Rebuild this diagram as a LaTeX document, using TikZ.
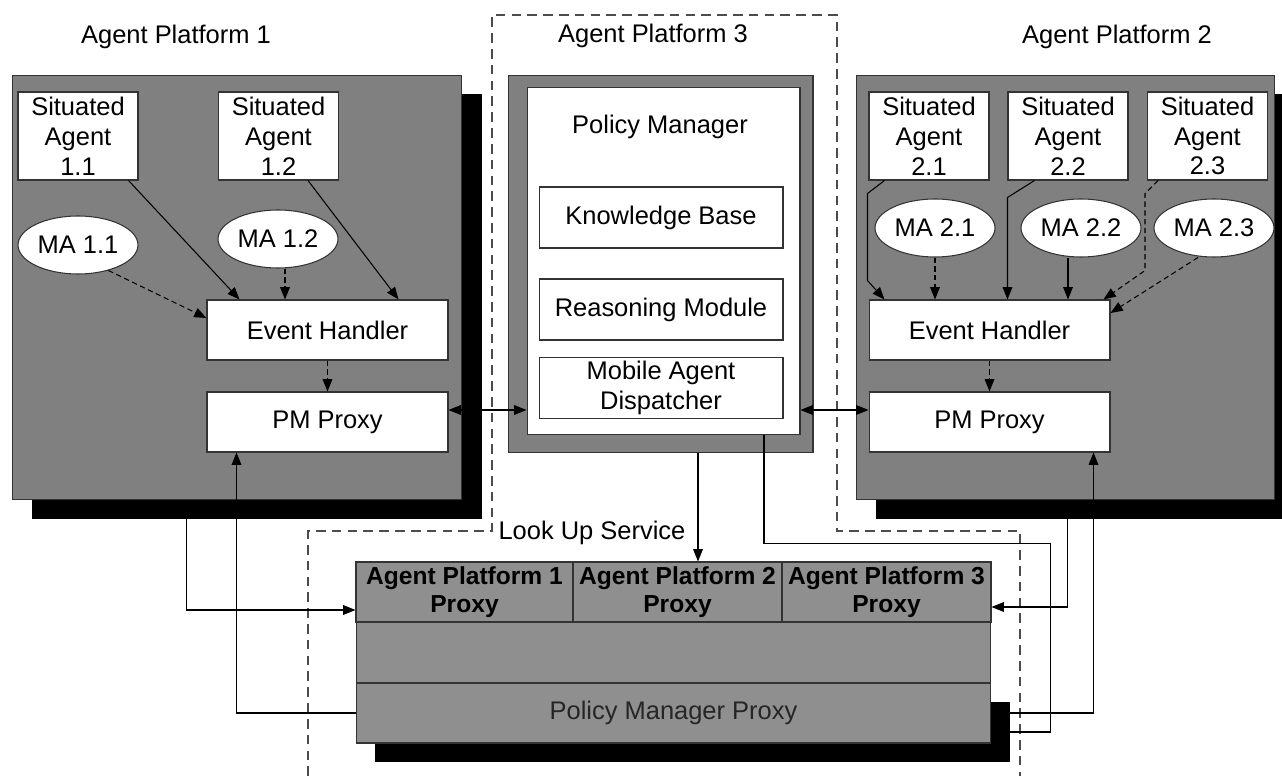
\documentclass[tikz,border=0pt]{standalone}
\usepackage{fontspec}
\setmainfont{Liberation Sans}
\usetikzlibrary{arrows.meta, shapes.geometric}
\definecolor{platgray}{gray}{0.5}
\definecolor{lusgray}{gray}{0.56}
\definecolor{proxytext}{gray}{0.15}

\begin{document}
\begin{tikzpicture}[
		x=0.02cm, y=-0.02cm,
		line width=0.6pt,
		every node/.style={font=\fontsize{14.5}{17}\selectfont},
		platform/.style={draw=black!80, fill=platgray, inner sep=0},
		shadowbox/.style={fill=black, inner sep=0},
		whitebox/.style={draw=black!80, fill=white, align=center, inner sep=0},
		agent/.style={whitebox, minimum width=2.4cm, minimum height=1.76cm},
		mobile/.style={draw=black!80, fill=white, ellipse, minimum width=2.4cm, minimum height=1.16cm, inner sep=0},
		handler/.style={whitebox, minimum width=4.82cm, minimum height=1.2cm},
		module/.style={whitebox, minimum width=4.88cm, minimum height=1.22cm},
		cell/.style={draw=black!80, fill=lusgray, inner sep=0, align=center, minimum height=1.2cm, font=\fontsize{14}{16}\selectfont\bfseries},
		row/.style={draw=black!80, fill=lusgray, inner sep=0, minimum width=12.7cm},
		apzone/.style={draw=black!70, dash pattern=on 5.5pt off 3.5pt},
		conn/.style={draw=black},
		arr/.style={conn, -{Triangle[length=7pt,width=5.5pt]}},
		flow/.style={arr, densely dashed},
		dbl/.style={conn, {Triangle[length=7pt,width=5.5pt]}-{Triangle[length=7pt,width=5.5pt]}}
		]
	\useasboundingbox (0,0) rectangle (1282,776);
	
	% Platform 3 and look up service zone
	\draw[apzone] (308,776) -- (308,531) -- (492,531) -- (492,15) -- (837,15) -- (837,531) -- (1020,531) -- (1020,776);
	\node[anchor=west, inner sep=0] (lustitle) at (498,533) {Look Up Service};
	
	% Titles
	\node (t1) at (176,37) {Agent Platform 1};
	\node (t3) at (653,36) {Agent Platform 3};
	\node (t2) at (1117,37) {Agent Platform 2};
	
	% Agent Platform 1
	\node[shadowbox, minimum width=9cm, minimum height=8.5cm] (plat1sh) at (257,306.5) {};
	\node[platform, minimum width=9cm, minimum height=8.5cm] (plat1) at (237,287.5) {};
	\node[agent] (sa11) at (78,136) {Situated\\Agent\\1.1};
	\node[agent] (sa12) at (278.5,136) {Situated\\Agent\\1.2};
	\node[mobile] (ma11) at (78,245) {MA 1.1};
	\node[mobile] (ma12) at (278,239) {MA 1.2};
	\node[handler] (eh1) at (327.5,330) {Event Handler};
	\node[handler] (pmp1) at (327.5,422) {PM Proxy};
	
	% Agent Platform 3
	\node[platform, minimum width=6.1cm, minimum height=7.56cm] (plat3) at (660.5,264) {};
	\node[whitebox, minimum width=5.46cm, minimum height=6.96cm] (pm) at (663.5,261) {};
	\node (pmlabel) at (660,127) {Policy Manager};
	\node[module] (kb) at (661,217.5) {Knowledge Base};
	\node[module] (rm) at (661,309.5) {Reasoning Module};
	\node[module] (mad) at (661,388) {Mobile Agent\\Dispatcher};
	
	% Agent Platform 2
	\node[shadowbox, minimum width=8.38cm, minimum height=8.5cm] (plat2sh) at (1085.5,306.5) {};
	\node[platform, minimum width=8.38cm, minimum height=8.5cm] (plat2) at (1065.5,287.5) {};
	\node[agent] (sa21) at (929,136) {Situated\\Agent\\2.1};
	\node[agent] (sa22) at (1068,136) {Situated\\Agent\\2.2};
	\node[agent] (sa23) at (1207.5,136) {Situated\\Agent\\2.3};
	\node[mobile] (ma21) at (935,228) {MA 2.1};
	\node[mobile] (ma22) at (1081,228) {MA 2.2};
	\node[mobile] (ma23) at (1214,228) {MA 2.3};
	\node[handler] (eh2) at (989.5,330) {Event Handler};
	\node[handler] (pmp2) at (989.5,422) {PM Proxy};
	
	% Look Up Service
	\node[cell, minimum width=4.34cm] (apx1) at (464.5,592) {Agent Platform 1\\Proxy};
	\node[cell, minimum width=4.18cm] (apx2) at (677.5,592) {Agent Platform 2\\Proxy};
	\node[cell, minimum width=4.18cm] (apx3) at (886.5,592) {Agent Platform 3\\Proxy};
	\node[row, minimum height=1.22cm] (lmid) at (673.5,652.5) {};
	\node[shadowbox, minimum width=12.7cm, minimum height=1.2cm] (lpmpsh) at (692.5,732) {};
	\node[row, minimum height=1.2cm, text=proxytext] (lpmp) at (673.5,713) {Policy Manager Proxy};
	
	% Platform 1 links
	\draw[arr] ([xshift=-0.2cm]sa11.south east) -- ([xshift=0.66cm]eh1.north west);
	\draw[arr] ([xshift=-0.62cm]sa12.south east) -- ([xshift=-1cm]eh1.north east);
	\draw[flow] (ma11.-40) -- ([yshift=0.24cm]eh1.west);
	\coordinate (ma12out) at ([xshift=0.14cm]ma12.south);
	\draw[flow] (ma12out) -- (ma12out |- eh1.north);
	\draw[flow] (eh1) -- (pmp1);
	\draw[arr] (lpmp.west) -| ([xshift=0.6cm]pmp1.south west);
	\draw[arr] ([xshift=3.1cm]plat1sh.south west) |- ([yshift=-0.36cm]apx1.west);
	
	% Policy manager links
	\coordinate (pmin1) at ([yshift=0.24cm]pmp1.east);
	\draw[dbl] (pmin1) -- (pmin1 -| pm.west);
	\coordinate (pmin2) at ([yshift=0.24cm]pmp2.west);
	\draw[dbl] (pmin2 -| pm.east) -- (pmin2);
	\coordinate (pmout) at ([xshift=0.75cm]plat3.south);
	\draw[arr] (pmout) -- (pmout |- apx2.north);
	\coordinate (pmback) at ([xshift=2.01cm]pm.south);
	\draw[conn] (pmback) -- ++(0,108) -| ([xshift=0.8cm]lpmpsh.east) -- (lpmpsh.east);
	
	% Platform 2 links
	\draw[arr] ([xshift=0.32cm]sa21.south west) -- ++(-17,13) -- ++(0,87) -- ([xshift=0.32cm]eh2.north west);
	\draw[flow] (ma21.south) -- (ma21.south |- eh2.north);
	\draw[arr] ([xshift=0.54cm]sa22.south west) -- ++(-27,17) -- (sa22.south west |- eh2.north);
	\coordinate (ma22out) at ([xshift=-0.26cm]ma22.south);
	\draw[arr] (ma22out) -- (ma22out |- eh2.north);
	\draw[flow] ([xshift=0.22cm]sa23.south west) -- ++(-13,13) -- ++(0,77) -- ([xshift=-0.14cm]eh2.north east);
	\draw[flow] ([xshift=-0.32cm]ma23.south) -- ([yshift=0.34cm]eh2.east);
	\draw[flow] (eh2) -- (pmp2);
	\draw[arr] ([xshift=3.84cm]plat2sh.south west) |- ([yshift=-0.3cm]apx3.east);
	\draw[arr] (lpmp.east -| lpmpsh.east) -| ([xshift=-0.34cm]pmp2.south east);
	
\end{tikzpicture}
\end{document}
